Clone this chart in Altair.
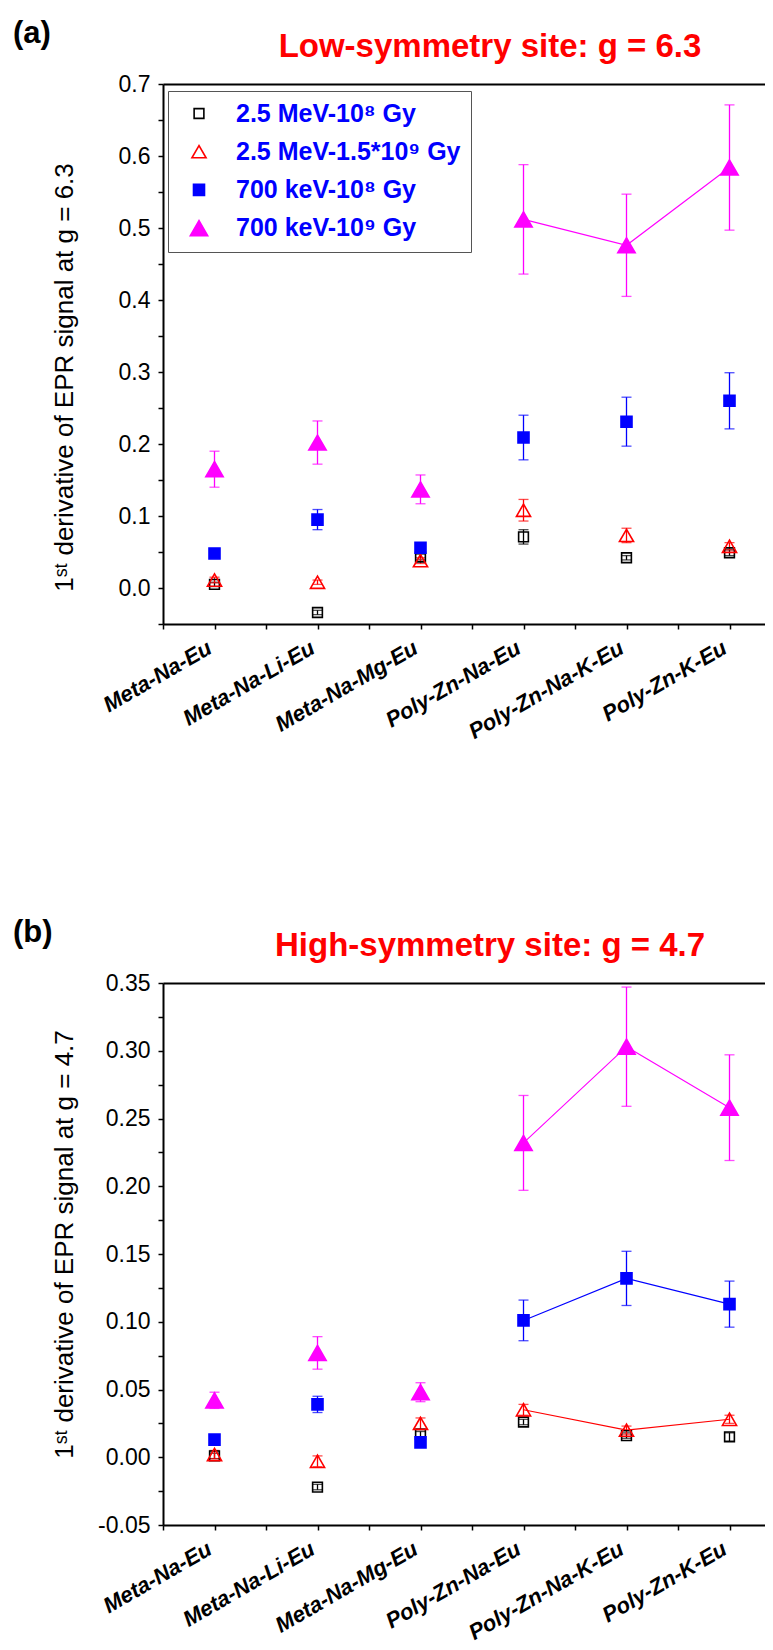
import altair as alt
import pandas as pd

categories = ["Meta-Na-Eu", "Meta-Na-Li-Eu", "Meta-Na-Mg-Eu",
              "Poly-Zn-Na-Eu", "Poly-Zn-Na-K-Eu", "Poly-Zn-K-Eu"]
series = ["2.5 MeV-10⁸ Gy", "2.5 MeV-1.5*10⁹ Gy", "700 keV-10⁸ Gy", "700 keV-10⁹ Gy"]

# ---- panel (a): low-symmetry site, g = 6.3 ----
a_mev_1e8 = [0.005, -0.034, 0.043, 0.071, 0.042, 0.049]
a_mev_1e8_err = [0.003, 0.003, 0.004, 0.010, 0.003, 0.004]
a_mev_15e9 = [0.011, 0.008, 0.038, 0.108, 0.073, 0.058]
a_mev_15e9_err = [0.004, 0.003, 0.004, 0.015, 0.010, 0.005]
a_kev_1e8 = [0.048, 0.095, 0.056, 0.209, 0.231, 0.260]
a_kev_1e8_err = [0.003, 0.014, 0.004, 0.031, 0.034, 0.039]
a_kev_1e9 = [0.165, 0.202, 0.137, 0.512, 0.476, 0.584]
a_kev_1e9_err = [0.025, 0.030, 0.020, 0.076, 0.071, 0.087]

# ---- panel (b): high-symmetry site, g = 4.7 ----
b_mev_1e8 = [0.001, -0.022, 0.017, 0.026, 0.016, 0.015]
b_mev_1e8_err = [0.002, 0.002, 0.002, 0.002, 0.002, 0.003]
b_mev_15e9 = [0.002, -0.003, 0.025, 0.035, 0.020, 0.028]
b_mev_15e9_err = [0.003, 0.004, 0.004, 0.004, 0.003, 0.003]
b_kev_1e8 = [0.013, 0.039, 0.011, 0.101, 0.132, 0.113]
b_kev_1e8_err = [0.002, 0.006, 0.002, 0.015, 0.020, 0.017]
b_kev_1e9 = [0.042, 0.077, 0.048, 0.232, 0.303, 0.258]
b_kev_1e9_err = [0.006, 0.012, 0.007, 0.035, 0.044, 0.039]

a_linked = ["700 keV-10⁹ Gy"]
b_linked = ["2.5 MeV-1.5*10⁹ Gy", "700 keV-10⁸ Gy", "700 keV-10⁹ Gy"]

FONT = "Liberation Sans"
colors = ["#000000", "#FF0000", "#0000FF", "#FF00FF"]


def long_table(vals, errs):
    rows = []
    for s, v, e in zip(series, vals, errs):
        for i, (vv, ee) in enumerate(zip(v, e)):
            rows.append({"series": s, "xi": i + 1, "val": vv,
                         "lo": vv - ee, "hi": vv + ee})
    return pd.DataFrame(rows)


df_a = long_table([a_mev_1e8, a_mev_15e9, a_kev_1e8, a_kev_1e9],
                  [a_mev_1e8_err, a_mev_15e9_err, a_kev_1e8_err, a_kev_1e9_err])
df_b = long_table([b_mev_1e8, b_mev_15e9, b_kev_1e8, b_kev_1e9],
                  [b_mev_1e8_err, b_mev_15e9_err, b_kev_1e8_err, b_kev_1e9_err])

stroke_scale = alt.Scale(domain=series, range=colors)
fill_scale = alt.Scale(domain=series, range=["transparent", "transparent", "#0000FF", "#FF00FF"])
shape_scale = alt.Scale(domain=series, range=["square", "triangle-up", "square", "triangle-up"])
size_scale = alt.Scale(type="ordinal", domain=series, range=[95, 200, 121, 300])

W = 602
x_scale = alt.Scale(domain=[0.5, 0.5 + W / 103.0], nice=False, zero=False)
cats_js = "[" + ",".join("'" + c + "'" for c in categories) + "]"
x_label_expr = f"datum.value % 1 === 0 ? {cats_js}[datum.value - 1] : ''"

x_bottom_axis = alt.Axis(
    orient="bottom", values=[i / 2 for i in range(1, 13)], labelExpr=x_label_expr,
    title=None, labelAngle=330, labelAlign="right", labelBaseline="top",
    labelPadding=8, labelOffset=-10, labelFont=FONT, labelFontSize=22,
    labelFontWeight="bold", labelFontStyle="italic", labelLimit=400,
    labelOverlap=False, labelFlush=False,
    tickSize=5, tickWidth=1.5, domainWidth=2, grid=False)
x_top_axis = alt.Axis(orient="top", labels=False, ticks=False, title=None,
                      domainWidth=2, grid=False)

legend_spec = alt.Legend(
    title=None, orient="none", legendX=5, legendY=7, padding=10, rowPadding=12.2,
    symbolOffset=8.5, labelOffset=24.5, labelFont=FONT, labelFontSize=25,
    labelFontWeight="bold", labelColor="#0000FF", strokeColor="#555555",
    fillColor="white", symbolStrokeWidth=1.6, labelLimit=400)


def panel(df, tag, title, ytitle, ydomain, yticks, ylabel_expr, height, title_y, linked):
    y_scale = alt.Scale(domain=ydomain, nice=False, zero=False)
    y_axis = alt.Axis(
        values=yticks, labelExpr=ylabel_expr, title=ytitle, titleFont=FONT,
        titleFontSize=26, titleFontWeight="normal", titleX=-91, titleY=title_y,
        titleAngle=270, titleAlign="center", titleBaseline="alphabetic",
        labelFont=FONT, labelFontSize=23, labelPadding=8, labelOverlap=False,
        tickSize=5, tickWidth=1.5, domainWidth=2, grid=False)

    def Y(field):
        return alt.Y(field, scale=y_scale, axis=y_axis)

    def XB():
        return alt.X("xi:Q", scale=x_scale, axis=x_bottom_axis)

    base = alt.Chart(df)

    # connecting lines (they also carry the plain top frame axis)
    line_layers = []
    for s in linked:
        c = colors[series.index(s)]
        line_layers.append(
            base.transform_filter(alt.datum.series == s)
            .transform_filter("datum.xi >= 4")
            .mark_line(color=c, strokeWidth=1.1)
            .encode(x=alt.X("xi:Q", scale=x_scale, axis=x_top_axis), y=Y("val:Q"))
        )

    # error bars with caps, one colour per series
    err_layers = []
    for s, c in zip(series, colors):
        sub = base.transform_filter(alt.datum.series == s)
        err_layers.append(
            sub.mark_rule(color=c, strokeWidth=1.3).encode(x=XB(), y=Y("lo:Q"), y2="hi:Q"))
        err_layers.append(
            sub.transform_fold(["lo", "hi"], as_=["k", "v"])
            .mark_tick(orient="horizontal", size=10, thickness=1.3, color=c)
            .encode(x=XB(), y=Y("v:Q")))

    points = base.mark_point(opacity=1, fillOpacity=1, strokeWidth=1.6).encode(
        x=XB(),
        y=Y("val:Q"),
        shape=alt.Shape("series:N", scale=shape_scale, legend=legend_spec),
        stroke=alt.Stroke("series:N", scale=stroke_scale, legend=legend_spec),
        fill=alt.Fill("series:N", scale=fill_scale, legend=legend_spec),
        size=alt.Size("series:N", scale=size_scale, legend=legend_spec),
    )

    tag_mark = alt.Chart(pd.DataFrame({"t": [tag]})).mark_text(
        align="left", baseline="alphabetic", font=FONT, fontSize=31,
        fontWeight="bold", color="black").encode(
        text="t:N", x=alt.value(-150), y=alt.value(-41))

    top = alt.layer(*line_layers)
    inner = alt.layer(*err_layers, points)
    return alt.layer(top, inner, tag_mark).properties(
        width=W, height=height,
        title=alt.TitleParams(text=title, color="#FF0000", font=FONT, fontSize=33,
                              fontWeight="bold", anchor="middle", frame="group",
                              baseline="alphabetic", dx=26, offset=-72),
    )


ylab_a = "abs(datum.value*10 - round(datum.value*10)) < 0.000001 ? format(datum.value, '.1f') : ''"
ylab_b = ("abs(datum.value*20 - round(datum.value*20)) < 0.000001 ? "
          "replace(format(datum.value, '.2f'), '\u2212', '-') : ''")

chart_a = panel(df_a, "(a)", "Low-symmetry site: g = 6.3",
                "1ˢᵗ derivative of EPR signal at g = 6.3",
                [-0.05, 0.7], [round(-0.05 + 0.05 * i, 3) for i in range(16)],
                ylab_a, 540, 293, a_linked)
chart_b = panel(df_b, "(b)", "High-symmetry site: g = 4.7",
                "1ˢᵗ derivative of EPR signal at g = 4.7",
                [-0.05, 0.35], [round(-0.05 + 0.025 * i, 4) for i in range(17)],
                ylab_b, 542, 261, b_linked)

chart = alt.vconcat(
    chart_a, chart_b, spacing=359, bounds="flush",
    padding={"left": 5, "top": 10, "right": 0, "bottom": 5},
).configure_view(
    stroke=None
).configure_axis(
    domainColor="black", tickColor="black", labelColor="black", titleColor="black"
)

chart.save("out.html", embed_options={"renderer": "svg", "actions": False})
